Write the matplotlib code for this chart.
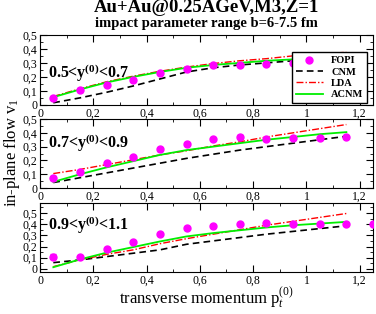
import matplotlib
matplotlib.use('Agg')
import matplotlib.pyplot as plt
from matplotlib.ticker import MultipleLocator, FuncFormatter

plt.rcParams['font.family'] = ['Liberation Serif', 'DejaVu Serif']
plt.rcParams['mathtext.fontset'] = 'custom'
plt.rcParams['mathtext.rm'] = 'Liberation Serif'
plt.rcParams['mathtext.it'] = 'Liberation Serif:italic'
plt.rcParams['mathtext.bf'] = 'Liberation Serif:bold'

# transverse momentum bins
pt = [0.05, 0.15, 0.25, 0.35, 0.45, 0.55, 0.65, 0.75, 0.85, 0.95, 1.05, 1.15]
pt3 = pt + [1.25]

# FOPI data, one list per rapidity window
fopi1 = [0.05, 0.107, 0.145, 0.18, 0.226, 0.255, 0.286, 0.286, 0.29, 0.30, 0.31, 0.31]
err1 = [0.01, 0.015, 0.008, 0.008, 0.008, 0.008, 0.008, 0.008, 0.008, 0.008, 0.008, 0.008]
fopi2 = [0.07, 0.118, 0.179, 0.227, 0.28, 0.319, 0.353, 0.372, 0.355, 0.365, 0.36, 0.372]
err2 = [0.015, 0.01, 0.008, 0.008, 0.008, 0.008, 0.008, 0.015, 0.008, 0.008, 0.008, 0.008]
fopi3 = [0.11, 0.105, 0.176, 0.238, 0.31, 0.363, 0.387, 0.40, 0.413, 0.405, 0.40, 0.405, 0.405]
err3 = [0.025, 0.012, 0.01, 0.01, 0.008, 0.008, 0.008, 0.008, 0.008, 0.008, 0.008, 0.008, 0.008]

# model curves
cnm1 = [0.015, 0.05, 0.09, 0.135, 0.185, 0.235, 0.265, 0.285, 0.30, 0.315, 0.325, 0.335]
lda1 = [0.06, 0.115, 0.165, 0.205, 0.24, 0.27, 0.295, 0.315, 0.33, 0.35, 0.365, 0.375]
acnm1 = [0.055, 0.11, 0.16, 0.20, 0.235, 0.265, 0.285, 0.30, 0.315, 0.325, 0.335, 0.34]

cnm2 = [0.04, 0.075, 0.11, 0.145, 0.18, 0.215, 0.245, 0.275, 0.30, 0.325, 0.35, 0.375]
lda2 = [0.105, 0.135, 0.17, 0.205, 0.24, 0.27, 0.305, 0.335, 0.37, 0.40, 0.43, 0.46]
acnm2 = [0.045, 0.10, 0.15, 0.195, 0.24, 0.275, 0.30, 0.325, 0.35, 0.37, 0.39, 0.405]

cnm3 = [0.056, 0.08, 0.11, 0.14, 0.17, 0.22, 0.25, 0.28, 0.31, 0.335, 0.36, 0.385]
lda3 = [0.02, 0.08, 0.13, 0.17, 0.225, 0.27, 0.31, 0.35, 0.39, 0.425, 0.46, 0.495]
acnm3 = [0.015, 0.085, 0.145, 0.195, 0.245, 0.29, 0.32, 0.345, 0.37, 0.39, 0.405, 0.42]

labels = [r'0.5<y$^{\mathbf{(0)}}$<0.7', r'0.7<y$^{\mathbf{(0)}}$<0.9', r'0.9<y$^{\mathbf{(0)}}$<1.1']

fig = plt.figure(figsize=(3.76, 3.14), dpi=100)
left, width = 40 / 376, 333 / 376
ax1 = fig.add_axes([left, 0.666, width, 0.223])
ax2 = fig.add_axes([left, 0.401, width, 0.220])
ax3 = fig.add_axes([left, 0.134, width, 0.220])

comma = FuncFormatter(lambda v, p: ('%g' % round(v, 2)).replace('.', ','))

panels = [
    (ax1, pt, fopi1, err1, cnm1, lda1, acnm1, (0, 0.5), 0.45),
    (ax2, pt, fopi2, err2, cnm2, lda2, acnm2, (0, 0.5), 0.65),
    (ax3, pt3, fopi3, err3, cnm3, lda3, acnm3, (-0.027, 0.59), 0.68),
]

for i, (ax, x, y, e, cnm, lda, acnm, ylim, ly) in enumerate(panels):
    ax.plot(pt, cnm, color='black', ls=(0, (4, 2.5)), lw=1.2, label='CNM')
    ax.plot(pt, lda, color='red', ls=(0, (5, 1.5, 1, 1.5)), lw=1.0, label='LDA')
    ax.plot(pt, acnm, color='#00ee00', lw=1.3, label='ACNM')
    ax.errorbar(x, y, yerr=e, fmt='none', ecolor='magenta', elinewidth=1, capsize=2, zorder=4)
    ax.plot(x, y, 'o', color='magenta', ms=5, label='FOPI', zorder=5)
    ax.set_xlim(0, 1.25)
    ax.set_ylim(*ylim)
    ax.xaxis.set_major_locator(MultipleLocator(0.2))
    ax.xaxis.set_minor_locator(MultipleLocator(0.1))
    ax.set_yticks([0, 0.1, 0.2, 0.3, 0.4, 0.5])
    ax.yaxis.set_minor_locator(MultipleLocator(0.05))
    ax.xaxis.set_major_formatter(comma)
    ax.yaxis.set_major_formatter(comma)
    ax.tick_params(which='both', direction='in', top=True, right=True, labelsize=8.5, pad=2)
    ax.tick_params(which='major', length=5)
    ax.tick_params(which='minor', length=2.5)
    ax.text(0.025, ly, labels[i], transform=ax.transAxes, fontsize=11.5,
            fontweight='bold', va='center', ha='left')

h, l = ax1.get_legend_handles_labels()
order = [3, 0, 1, 2]
leg = ax1.legend([h[k] for k in order], [l[k] for k in order], loc='upper right',
                 bbox_to_anchor=(0.982, 0.75), borderaxespad=0, fancybox=False,
                 edgecolor='black', framealpha=1, handlelength=2.6, labelspacing=0.2,
                 borderpad=0.35, handletextpad=0.8, prop={'weight': 'bold', 'size': 7.5})
leg.get_frame().set_linewidth(1.0)
leg.set_zorder(10)

fig.text(206 / 376, 1 - 8 / 314, 'Au+Au@0.25AGeV,M3,Z=1', ha='center', va='center',
         fontsize=13.5, fontweight='bold')
fig.text(206 / 376, 1 - 23.5 / 314, 'impact parameter range b=6-7.5 fm', ha='center',
         va='center', fontsize=10.5, fontweight='bold')
fig.text(12 / 376, 1 - 153 / 314, r'in-plane flow v$_1$', rotation=90, ha='center',
         va='center', fontsize=12)
fig.text(206 / 376, 1 - 298 / 314, r'transverse momentum p$_t^{(0)}$', ha='center',
         va='center', fontsize=12)

plt.savefig('out.png', dpi=100)
